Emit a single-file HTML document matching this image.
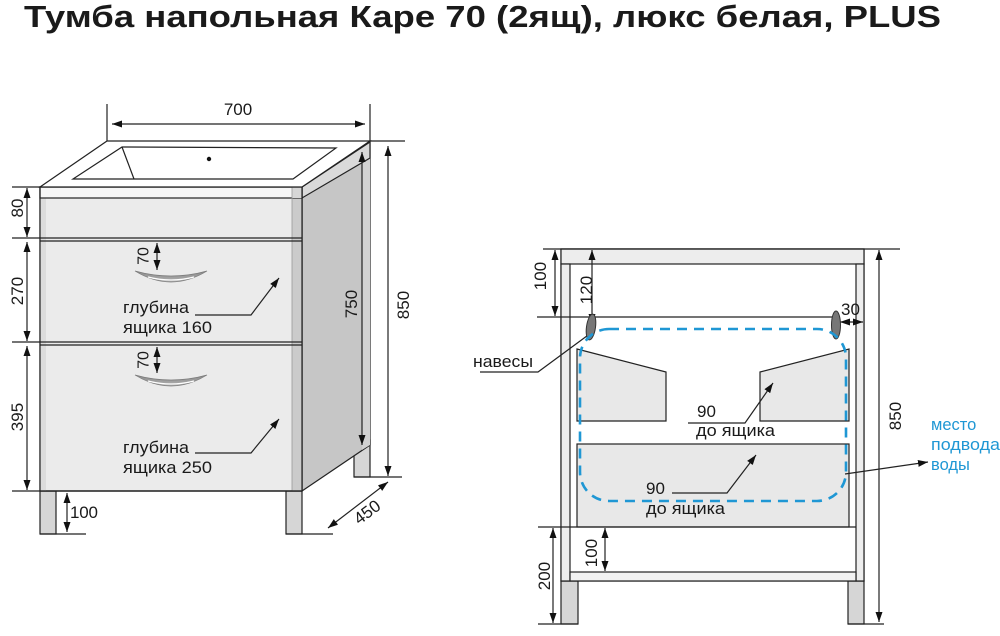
<!DOCTYPE html>
<html><head><meta charset="utf-8"><style>
html,body{margin:0;padding:0;background:#fff;}
svg{display:block;}
text{font-family:"Liberation Sans",Arial,sans-serif;fill:#1a1a1a;}
</style></head><body>
<svg width="1000" height="636" viewBox="0 0 1000 636" xmlns="http://www.w3.org/2000/svg">
<defs>
<marker id="a" viewBox="0 0 10 7" refX="10" refY="3.5" markerWidth="10" markerHeight="7" markerUnits="userSpaceOnUse" orient="auto-start-reverse"><path d="M0,0 L10,3.5 L0,7 z" fill="#111"/></marker>
<linearGradient id="h" x1="0" y1="0" x2="0" y2="1"><stop offset="0" stop-color="#8a8a8a"/><stop offset="1" stop-color="#b0b0b0"/></linearGradient>
</defs>

<text x="24" y="27" font-size="31" font-weight="bold" textLength="917" lengthAdjust="spacingAndGlyphs">Тумба напольная Каре 70 (2ящ), люкс белая, PLUS</text>

<g stroke="#222" stroke-width="1.2">
<!-- LEFT CABINET -->
<rect x="354" y="440" width="16" height="37" fill="#d6d6d6"/>
<rect x="40" y="491" width="16" height="43" fill="#d6d6d6"/>
<rect x="286" y="491" width="16" height="43" fill="#d6d6d6"/>
<polygon points="302,187 370,142 370,445 302,491" fill="#c6c6c6"/>
<polygon points="362,148 370,142 370,445 362,450" fill="#d2d2d2" stroke="none"/>
<polygon points="302,187 370,142 370,158 302,198" fill="#dadada"/>
<rect x="40" y="187" width="262" height="304" fill="#ebebeb"/>
<rect x="40" y="198" width="6" height="293" fill="#dcdcdc" stroke="none"/>
<rect x="292" y="198" width="10" height="293" fill="#cbcbcb" stroke="none"/>
<rect x="40" y="187" width="262" height="11" fill="#f6f6f6"/>
<rect x="292" y="187" width="10" height="11" fill="#d6d6d6" stroke="none"/>
<line x1="292" y1="187" x2="292" y2="491" stroke="#999" stroke-width="0.8"/>
<rect x="40" y="187" width="262" height="304" fill="none"/>
<polygon points="40,187 107,141 370,141 302,187" fill="#fff"/>
<polygon points="122,147 336,148 293,179 73,179" fill="#fff"/>
<line x1="122" y1="147" x2="134" y2="179"/>
<circle cx="209" cy="159" r="2.2" fill="#111" stroke="none"/>
<line x1="12" y1="238" x2="302" y2="238"/>
<line x1="40" y1="241" x2="302" y2="241"/>
<line x1="12" y1="342" x2="302" y2="342"/>
<line x1="40" y1="345" x2="302" y2="345"/>
<line x1="12" y1="491" x2="302" y2="491"/>
<line x1="12" y1="187" x2="40" y2="187"/>
<line x1="107" y1="104" x2="107" y2="141"/>
<line x1="370" y1="104" x2="370" y2="141"/>
<line x1="370" y1="141" x2="405" y2="141"/>
<line x1="354" y1="477" x2="402" y2="477"/>
<line x1="40" y1="534" x2="86" y2="534"/>
<line x1="286" y1="534" x2="333" y2="534"/>
<line x1="112" y1="124" x2="365" y2="124" marker-start="url(#a)" marker-end="url(#a)"/>
<line x1="27" y1="188" x2="27" y2="237" marker-start="url(#a)" marker-end="url(#a)"/>
<line x1="27" y1="242" x2="27" y2="341" marker-start="url(#a)" marker-end="url(#a)"/>
<line x1="27" y1="346" x2="27" y2="490" marker-start="url(#a)" marker-end="url(#a)"/>
<line x1="362" y1="152" x2="362" y2="445" marker-start="url(#a)" marker-end="url(#a)"/>
<line x1="388" y1="146" x2="388" y2="476" marker-start="url(#a)" marker-end="url(#a)"/>
<line x1="67" y1="493" x2="67" y2="532" marker-start="url(#a)" marker-end="url(#a)"/>
<line x1="328" y1="528" x2="388" y2="482" marker-start="url(#a)" marker-end="url(#a)"/>
<line x1="157" y1="243" x2="157" y2="270" marker-start="url(#a)" marker-end="url(#a)"/>
<line x1="157" y1="347" x2="157" y2="373" marker-start="url(#a)" marker-end="url(#a)"/>
<polyline points="195,315 251,315 279,278" fill="none" marker-end="url(#a)"/>
<polyline points="195,453 251,453 279,419" fill="none" marker-end="url(#a)"/>
</g>
<!-- handles -->
<path d="M135,271 Q171,293 207,271 Q171,281 135,271 z" fill="url(#h)" stroke="#7a7a7a" stroke-width="0.7"/>
<path d="M148,277 Q171,283 194,277" fill="none" stroke="#fff" stroke-width="1.3"/>
<path d="M135,375 Q171,397 207,375 Q171,385 135,375 z" fill="url(#h)" stroke="#7a7a7a" stroke-width="0.7"/>
<path d="M148,381 Q171,387 194,381" fill="none" stroke="#fff" stroke-width="1.3"/>

<g font-size="17">
<text x="238" y="115" text-anchor="middle">700</text>
<text transform="translate(17,208) rotate(-90)" text-anchor="middle" dy="0.35em">80</text>
<text transform="translate(17,291) rotate(-90)" text-anchor="middle" dy="0.35em">270</text>
<text transform="translate(17,417) rotate(-90)" text-anchor="middle" dy="0.35em">395</text>
<text transform="translate(351,304) rotate(-90)" text-anchor="middle" dy="0.35em">750</text>
<text transform="translate(403,305) rotate(-90)" text-anchor="middle" dy="0.35em">850</text>
<text transform="translate(367,512) rotate(-37)" text-anchor="middle" dy="0.35em">450</text>
<text x="70" y="518" textLength="28">100</text>
<text x="123" y="313" textLength="66" lengthAdjust="spacingAndGlyphs">глубина</text>
<text x="123" y="333" textLength="89" lengthAdjust="spacingAndGlyphs">ящика 160</text>
<text x="123" y="453" textLength="66" lengthAdjust="spacingAndGlyphs">глубина</text>
<text x="123" y="473" textLength="89" lengthAdjust="spacingAndGlyphs">ящика 250</text>
</g>
<g font-size="16">
<text transform="translate(143,256) rotate(-90)" text-anchor="middle" dy="0.35em">70</text>
<text transform="translate(143,360) rotate(-90)" text-anchor="middle" dy="0.35em">70</text>
</g>

<!-- RIGHT CABINET -->
<g stroke="#222" stroke-width="1.2">
<rect x="561" y="581" width="17" height="43" fill="#d6d6d6"/>
<rect x="848" y="581" width="16" height="43" fill="#d6d6d6"/>
<rect x="561" y="249" width="303" height="332" fill="#fff"/>
<rect x="561" y="249" width="303" height="15" fill="#ededed"/>
<rect x="561" y="264" width="9" height="317" fill="#ededed"/>
<rect x="856" y="264" width="8" height="317" fill="#ededed"/>
<rect x="570" y="572" width="286" height="9" fill="#f2f2f2"/>
<polygon points="577,349 666,372 666,421 577,421" fill="#e8e8e8"/>
<polygon points="760,372 849,349 849,421 760,421" fill="#e8e8e8"/>
<rect x="577" y="444" width="272" height="83" fill="#e8e8e8"/>
<line x1="543" y1="249" x2="900" y2="249"/>
<line x1="537" y1="317" x2="833" y2="317"/>
<line x1="538" y1="527" x2="856" y2="527"/>
<line x1="538" y1="624" x2="578" y2="624"/>
<line x1="848" y1="624" x2="884" y2="624"/>
<line x1="555" y1="250" x2="555" y2="316" marker-start="url(#a)" marker-end="url(#a)"/>
<line x1="592" y1="250" x2="592" y2="324" marker-start="url(#a)" marker-end="url(#a)"/>
<line x1="879" y1="250" x2="879" y2="622" marker-start="url(#a)" marker-end="url(#a)"/>
<line x1="553" y1="528" x2="553" y2="623" marker-start="url(#a)" marker-end="url(#a)"/>
<line x1="605" y1="528" x2="605" y2="571" marker-start="url(#a)" marker-end="url(#a)"/>
<line x1="840" y1="322" x2="863" y2="322" marker-start="url(#a)" marker-end="url(#a)"/>
<polyline points="480,372 538,372 595,330" fill="none"/>
<polyline points="688,423 745,423 773,383" fill="none" marker-end="url(#a)"/>
<polyline points="672,493 727,493 756,455" fill="none" marker-end="url(#a)"/>
<line x1="845" y1="474" x2="928" y2="462" marker-end="url(#a)"/>
</g>
<ellipse cx="591" cy="327" rx="4.5" ry="13" fill="#777" stroke="#333" stroke-width="1" transform="rotate(8 591 327)"/>
<ellipse cx="836" cy="325" rx="4.5" ry="14" fill="#777" stroke="#333" stroke-width="1"/>
<rect x="580" y="329" width="266" height="172" rx="29" ry="29" fill="none" stroke="#1f97d4" stroke-width="2.6" stroke-dasharray="10 7"/>

<g font-size="17">
<text transform="translate(540,276) rotate(-90)" text-anchor="middle" dy="0.35em">100</text>
<text transform="translate(586,290) rotate(-90)" text-anchor="middle" dy="0.35em">120</text>
<text transform="translate(544,576) rotate(-90)" text-anchor="middle" dy="0.35em">200</text>
<text transform="translate(591,553) rotate(-90)" text-anchor="middle" dy="0.35em">100</text>
<text transform="translate(895,416) rotate(-90)" text-anchor="middle" dy="0.35em">850</text>
<text x="841" y="315">30</text>
<text x="473" y="367" textLength="60" lengthAdjust="spacingAndGlyphs">навесы</text>
<text x="697" y="417">90</text>
<text x="696" y="436" textLength="79" lengthAdjust="spacingAndGlyphs">до ящика</text>
<text x="646" y="494">90</text>
<text x="646" y="514" textLength="79" lengthAdjust="spacingAndGlyphs">до ящика</text>
</g>
<g font-size="16.5">
<text x="931" y="430" style="fill:#1f97d4">место</text>
<text x="931" y="450" style="fill:#1f97d4" textLength="69" lengthAdjust="spacingAndGlyphs">подвода</text>
<text x="931" y="470" style="fill:#1f97d4">воды</text>
</g>
</svg>
</body></html>
